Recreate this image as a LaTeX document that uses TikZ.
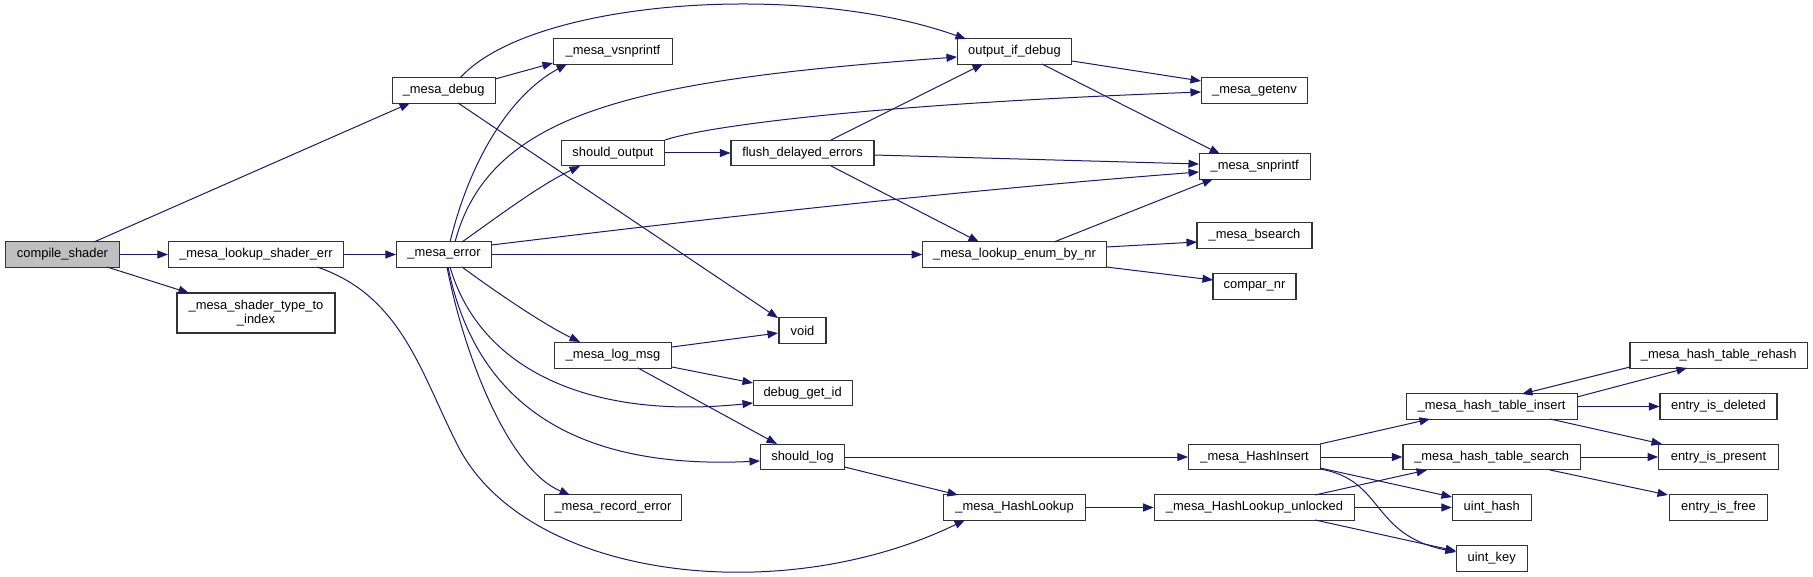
\documentclass[tikz,border=0pt]{standalone}
\usepackage{fontspec}
\setmainfont{Liberation Sans}
\usetikzlibrary{arrows.meta,calc}
\definecolor{edgeblue}{HTML}{191970}
\definecolor{rootgray}{HTML}{BFBFBF}
\begin{document}
\begin{tikzpicture}[x=1pt,y=-1pt,
  font=\fontsize{12.9}{14.7}\selectfont,
  fn/.style={draw=black!80, line width=1.1pt, fill=white, minimum height=25.5pt, inner sep=0pt, align=center},
  call/.style={draw=edgeblue, line width=1pt, -{Triangle[length=10.5pt,width=8pt]}, fill=none}]
\useasboundingbox (0,0) rectangle (1813,577);
% nodes
\node[fn, minimum width=114pt, fill=rootgray] (cs) at (62.5,254.5) {compile\_shader};
\node[fn, minimum width=175pt] (lse) at (256,254.5) {\_mesa\_lookup\_shader\_err};
\node[fn, minimum width=158pt, minimum height=40pt] (stt) at (256,313) {\_mesa\_shader\_type\_to\\\_index};
\node[fn, minimum width=103pt] (dbg) at (443.7,90.5) {\_mesa\_debug};
\node[fn, minimum width=95pt] (err) at (444,254.5) {\_mesa\_error};
\node[fn, minimum width=119pt] (vsn) at (613,51.5) {\_mesa\_vsnprintf};
\node[fn, minimum width=103pt] (sho) at (613,153) {should\_output};
\node[fn, minimum width=117.5pt] (lmsg) at (613,355.5) {\_mesa\_log\_msg};
\node[fn, minimum width=137.6pt] (rec) at (613,507.5) {\_mesa\_record\_error};
\node[fn, minimum width=114.5pt] (oid) at (1014.5,51.5) {output\_if\_debug};
\node[fn, minimum width=143pt] (fde) at (802.5,153) {flush\_delayed\_errors};
\node[fn, minimum width=47pt] (void) at (802.5,330.5) {void};
\node[fn, minimum width=99pt] (dgi) at (802.6,393) {debug\_get\_id};
\node[fn, minimum width=84pt] (slog) at (802.5,457) {should\_log};
\node[fn, minimum width=183.5pt] (enum) at (1014.5,254.5) {\_mesa\_lookup\_enum\_by\_nr};
\node[fn, minimum width=141.4pt] (hl) at (1014.6,507.5) {\_mesa\_HashLookup};
\node[fn, minimum width=106.5pt] (genv) at (1254.5,90.5) {\_mesa\_getenv};
\node[fn, minimum width=111pt] (snp) at (1254.7,166.5) {\_mesa\_snprintf};
\node[fn, minimum width=115pt] (bs) at (1254.5,235.5) {\_mesa\_bsearch};
\node[fn, minimum width=83pt] (cmp) at (1254.5,286.5) {compar\_nr};
\node[fn, minimum width=132pt] (hi) at (1254.5,457) {\_mesa\_HashInsert};
\node[fn, minimum width=200.5pt] (hlu) at (1254.5,507.5) {\_mesa\_HashLookup\_unlocked};
\node[fn, minimum width=171pt] (hti) at (1491.6,406.5) {\_mesa\_hash\_table\_insert};
\node[fn, minimum width=177.5pt] (hts) at (1491.7,457) {\_mesa\_hash\_table\_search};
\node[fn, minimum width=78.7pt] (uh) at (1491.7,507.5) {uint\_hash};
\node[fn, minimum width=71pt] (uk) at (1491.7,558.5) {uint\_key};
\node[fn, minimum width=177.5pt] (rh) at (1718.7,355.5) {\_mesa\_hash\_table\_rehash};
\node[fn, minimum width=117pt] (eid) at (1718.5,406.5) {entry\_is\_deleted};
\node[fn, minimum width=119.6pt] (eip) at (1718.5,457) {entry\_is\_present};
\node[fn, minimum width=97.6pt] (eif) at (1718.5,507.5) {entry\_is\_free};
% edges
\draw[call] ($(cs)+(31.5,-12.5)$) -- ($(dbg)+(-33.7,12.5)$);
\draw[call] (cs.east) -- (lse.west);
\draw[call] ($(cs)+(44.5,12.5)$) -- ($(stt)+(-67,-20)$);
\draw[call] (lse.east) -- (err.west);
\draw[call] ($(lse)+(61,12.5)$) .. controls (400,295) and (420,370) .. (455,440) .. controls (520,580) and (780,610) .. ($(hl)+(-49.6,12.5)$);
\draw[call] ($(dbg)+(16.3,-12.5)$) .. controls (530,0) and (800,-20) .. ($(oid)+(-48.5,-12.5)$);
\draw[call] ($(dbg)+(51.5,-11.5)$) -- ($(vsn)+(-60,11.5)$);
\draw[call] ($(dbg)+(14.3,12.5)$) -- ($(void)+(-24.5,-12.5)$);
\draw[call] ($(err)+(6,-12.5)$) .. controls (470,160) and (510,95) .. ($(vsn)+(-46,12.5)$);
\draw[call] ($(err)+(11,-12.5)$) .. controls (490,110) and (640,80) .. ($(oid)+(-57.5,5.5)$);
\draw[call] ($(err)+(18,-12.5)$) .. controls (500,215) and (540,185) .. ($(sho)+(-33,13)$);
\draw[call] ($(err)+(47.3,-9.5)$) .. controls (600,232) and (900,195) .. ($(snp)+(-55.7,5.5)$);
\draw[call] (err.east) -- (enum.west);
\draw[call] ($(err)+(18,12.5)$) .. controls (500,295) and (545,325) .. ($(lmsg)+(-33,-13.5)$);
\draw[call] ($(err)+(6,12.5)$) .. controls (480,370) and (590,420) .. ($(dgi)+(-49.6,10)$);
\draw[call] ($(err)+(4,12.5)$) .. controls (475,400) and (570,470) .. ($(slog)+(-42.5,4)$);
\draw[call] ($(err)+(3,12.5)$) .. controls (465,360) and (510,470) .. ($(rec)+(-43,-12.5)$);
\draw[call] ($(lmsg)+(59,-8.5)$) -- ($(void)+(-24.5,2.5)$);
\draw[call] ($(lmsg)+(59,11.5)$) -- ($(dgi)+(-49.6,-10)$);
\draw[call] ($(lmsg)+(25,12.5)$) -- ($(slog)+(-25.5,-13)$);
\draw[call] (sho.east) -- (fde.west);
\draw[call] ($(sho)+(52,-13)$) .. controls (700,128) and (850,105) .. ($(genv)+(-53.5,1.5)$);
\draw[call] ($(fde)+(28.5,-13)$) -- ($(oid)+(-31.5,12.5)$);
\draw[call] ($(fde)+(71.5,2)$) -- ($(snp)+(-55.7,-2.5)$);
\draw[call] ($(fde)+(28.5,13)$) -- ($(enum)+(-35.5,-12.5)$);
\draw[call] ($(oid)+(57.5,9.5)$) -- ($(genv)+(-53.5,-9.5)$);
\draw[call] ($(oid)+(27.5,12.5)$) -- ($(snp)+(-34.7,-12.5)$);
\draw[call] ($(enum)+(39.5,-12.5)$) -- ($(snp)+(-41.7,12.5)$);
\draw[call] ($(enum)+(91.7,-7.5)$) -- ($(bs)+(-57.5,6.5)$);
\draw[call] ($(enum)+(91.7,12.5)$) -- ($(cmp)+(-41.5,-6.5)$);
\draw[call] (slog.east) -- (hi.west);
\draw[call] ($(slog)+(42,10)$) -- ($(hl)+(-56.6,-12.5)$);
\draw[call] (hl.east) -- (hlu.west);
\draw[call] ($(hi)+(65.5,-13)$) -- ($(hti)+(-61.6,12.5)$);
\draw[call] (hi.east) -- (hts.west);
\draw[call] ($(hi)+(65.5,11)$) -- ($(uh)+(-39.7,-10.5)$);
\draw[call] ($(hi)+(65.5,12)$) .. controls (1385,480) and (1370,535) .. ($(uk)+(-35.7,-6.5)$);
\draw[call] ($(hlu)+(60.5,-12.5)$) -- ($(hts)+(-64.7,13)$);
\draw[call] (hlu.east) -- (uh.west);
\draw[call] ($(hlu)+(60.5,12.5)$) -- ($(uk)+(-35.7,-7.5)$);
\draw[call] ($(hti)+(85.4,-9.5)$) -- ($(rh)+(-31.7,12.5)$);
\draw[call] ($(rh)+(-88.7,11.5)$) -- ($(hti)+(30.4,-12.5)$);
\draw[call] (hti.east) -- (eid.west);
\draw[call] ($(hti)+(58.4,12.5)$) -- ($(eip)+(-56.5,-13)$);
\draw[call] (hts.east) -- (eip.west);
\draw[call] ($(hts)+(58.3,13)$) -- ($(eif)+(-50.5,-12.5)$);
\end{tikzpicture}
\end{document}
